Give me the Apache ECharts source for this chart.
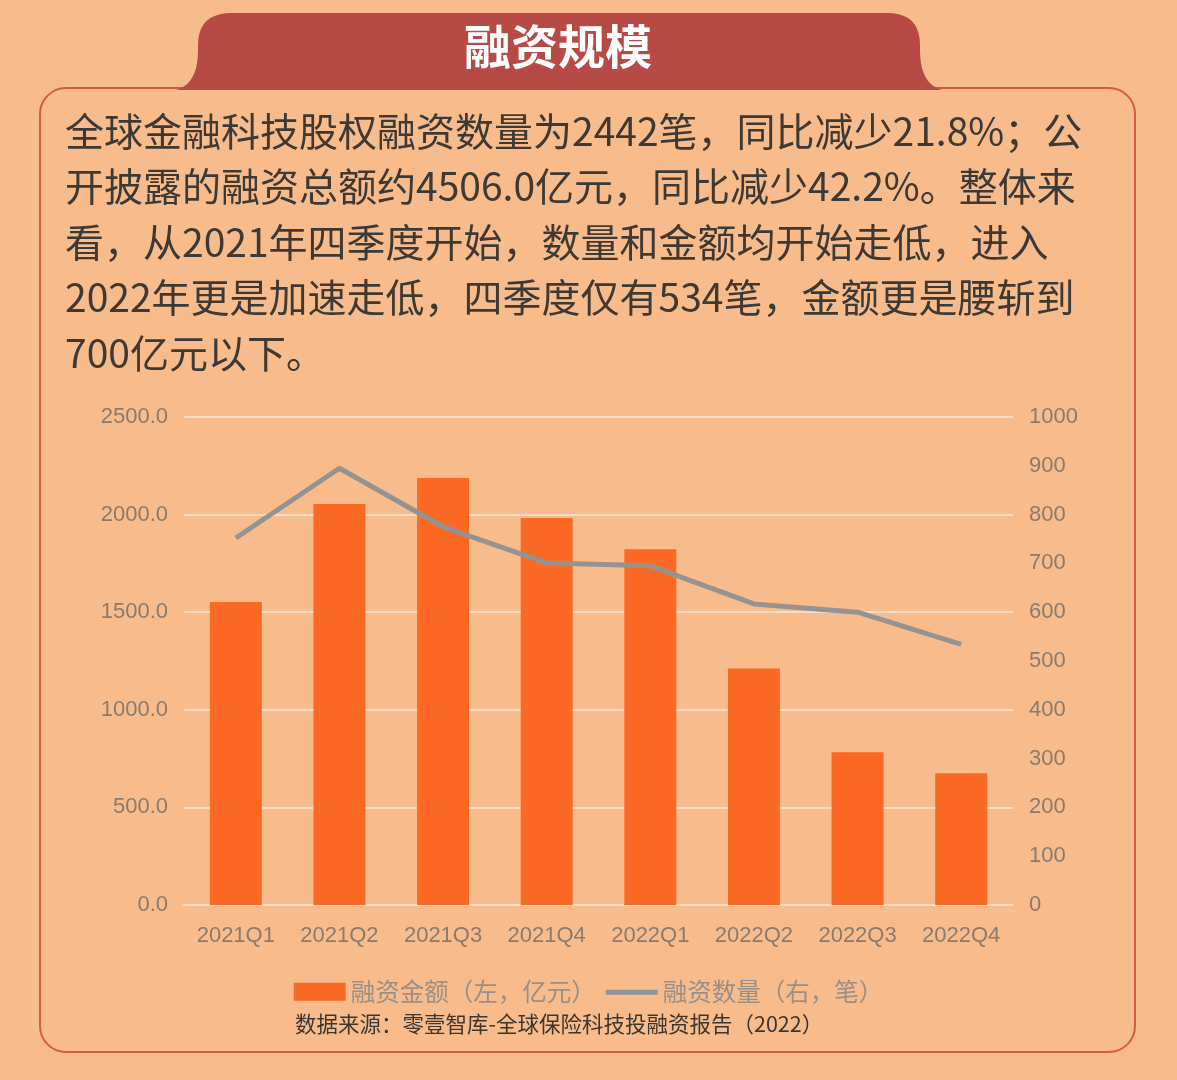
<!DOCTYPE html>
<html style="height: 100%">
<head>
  <meta charset="utf-8" />
  <title>融资规模</title>
  <script src="https://cdn.jsdelivr.net/npm/echarts@6.0.0/dist/echarts.min.js"></script>
</head>
<body style="height: 100%; margin: 0; background: #F8BC8C">
  <div id="chart" style="width: 1177px; height: 1080px"></div>
  <script>
    const quarters = ['2021Q1', '2021Q2', '2021Q3', '2021Q4', '2022Q1', '2022Q2', '2022Q3', '2022Q4'];
    const amount = [1552, 2054, 2187, 1982, 1822, 1212, 782, 675];   // 亿元, left axis
    const deals = [752, 895, 775, 701, 695, 617, 600, 534];          // 笔, right axis
    const paragraph = [
      '全球金融科技股权融资数量为2442笔，同比减少21.8%；公',
      '开披露的融资总额约4506.0亿元，同比减少42.2%。整体来',
      '看，从2021年四季度开始，数量和金额均开始走低，进入',
      '2022年更是加速走低，四季度仅有534笔，金额更是腰斩到',
      '700亿元以下。'
    ];

    const bg = '#F8BC8C';
    const font = '"Noto Sans CJK SC", "Noto Sans", sans-serif';
    const axisText = { color: '#8a7b6e', fontSize: 22, fontFamily: 'Liberation Sans, sans-serif' };

    // header tab outline: rounded top, flared bottom corners
    function bez(p0, p1, p2, n) {
      const pts = [];
      for (let i = 0; i <= n; i++) {
        const t = i / n, u = 1 - t;
        pts.push([u * u * p0[0] + 2 * u * t * p1[0] + t * t * p2[0],
                  u * u * p0[1] + 2 * u * t * p1[1] + t * t * p2[1]]);
      }
      return pts;
    }
    const tabPts = [].concat(
      bez([176, 90], [198, 84], [198, 50], 10),
      bez([198, 45], [198, 13], [232, 13], 10),
      bez([887, 13], [920, 13], [920, 45], 10),
      bez([920, 50], [920, 84], [942, 90], 10)
    );

    var chart = echarts.init(document.getElementById('chart'));

    chart.setOption({
      backgroundColor: bg,
      graphic: [
        {
          type: 'rect', z: 0,
          shape: { x: 40, y: 88, width: 1095, height: 964, r: 26 },
          style: { fill: bg, stroke: '#D9564A', lineWidth: 2 }
        },
        {
          type: 'polygon', z: 1,
          shape: { points: tabPts },
          style: { fill: '#B84A45' }
        },
        {
          type: 'text', z: 2, x: 558, y: 46,
          style: { text: '融资规模', fill: '#fff', font: 'bold 47px ' + font, align: 'center', verticalAlign: 'middle' }
        },
        {
          type: 'text', z: 2, x: 65, y: 103,
          style: {
            text: paragraph.join('\n'), fill: '#3d3935',
            font: '39px ' + font, lineHeight: 55.5
          }
        },
        {
          type: 'text', z: 2, x: 295, y: 1024,
          style: { text: '数据来源：零壹智库-全球保险科技投融资报告（2022）', fill: '#3b3631', font: '21.5px ' + font, verticalAlign: 'middle' }
        }
      ],
      legend: {
        bottom: 71,
        left: 'center',
        itemWidth: 52,
        itemHeight: 18,
        itemGap: 10,
        textStyle: { color: '#9a8f86', fontSize: 24.5, fontFamily: font },
        data: [
          { name: '融资金额（左，亿元）', icon: 'rect' },
          { name: '融资数量（右，笔）', icon: 'path://M0,0 L0,0 M0,7 L52,7 L52,12 L0,12 Z M0,18 L0,18' }
        ]
      },
      grid: { left: 184, right: 164, top: 417, bottom: 175 },
      xAxis: {
        type: 'category',
        data: quarters,
        axisLine: { show: true, lineStyle: { color: '#F6DCC6', width: 2 } },
        axisTick: { show: false },
        axisLabel: Object.assign({ margin: 20 }, axisText)
      },
      yAxis: [
        {
          type: 'value', min: 0, max: 2500, interval: 500,
          axisLabel: Object.assign({ margin: 16, formatter: v => v.toFixed(1) }, axisText),
          splitLine: { lineStyle: { color: '#F6DCC6', width: 2 } }
        },
        {
          type: 'value', min: 0, max: 1000, interval: 100,
          axisLabel: Object.assign({ margin: 16, formatter: v => String(v) }, axisText),
          splitLine: { show: false }
        }
      ],
      series: [
        {
          name: '融资金额（左，亿元）',
          type: 'bar',
          data: amount,
          barWidth: 52,
          itemStyle: { color: '#FA6A24' }
        },
        {
          name: '融资数量（右，笔）',
          type: 'line',
          yAxisIndex: 1,
          data: deals,
          symbol: 'none',
          lineStyle: { color: '#959392', width: 5 },
          itemStyle: { color: '#959392' }
        }
      ]
    });
  </script>
</body>
</html>
